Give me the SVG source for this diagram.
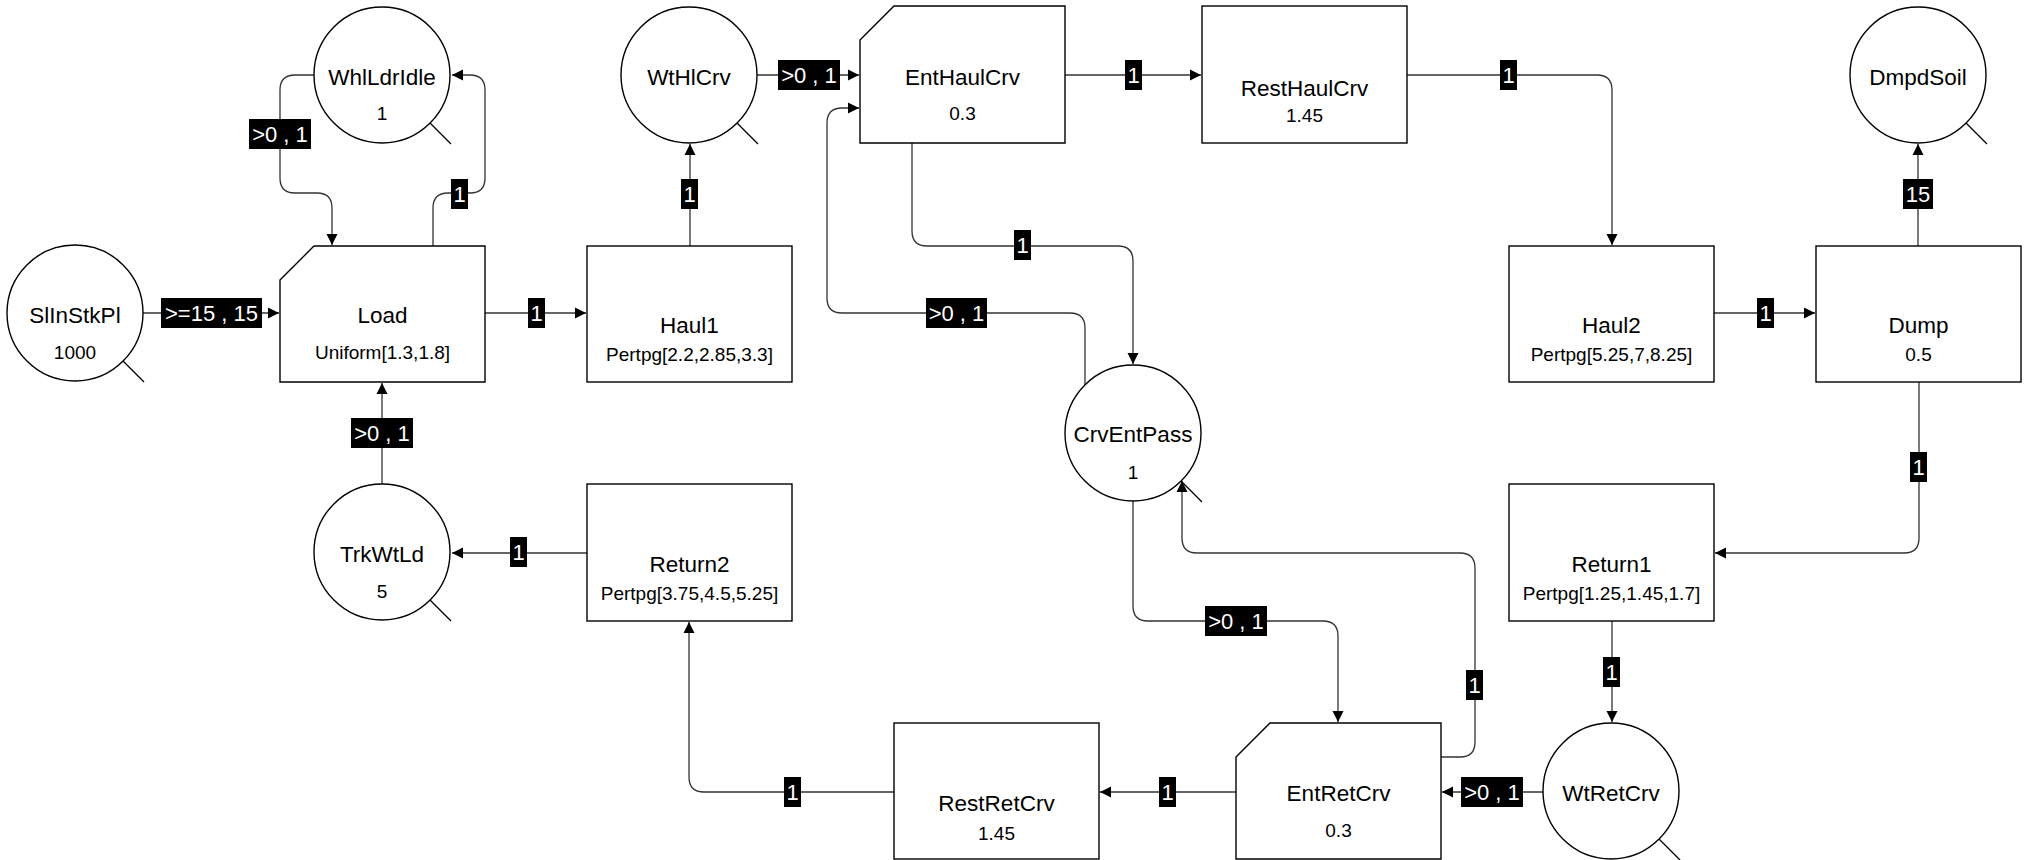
<svg xmlns="http://www.w3.org/2000/svg" width="2025" height="860" viewBox="0 0 2025 860">
  <defs>
    <marker id="arrow" markerUnits="userSpaceOnUse" markerWidth="12" markerHeight="12" viewBox="0 0 12 12" refX="11" refY="6" orient="auto">
      <path d="M0,0.5 L11,6 L0,11.5 Z" fill="#000"/>
    </marker>
    <style>
      .shape { fill: #fff; stroke: #000; stroke-width: 1.4; }
      .tail { fill: none; stroke: #000; stroke-width: 1.3; }
      .name { font-family: "Liberation Sans", Arial, sans-serif; font-size: 22.5px; fill: #000; text-anchor: middle; }
      .sub { font-family: "Liberation Sans", Arial, sans-serif; font-size: 19px; fill: #000; text-anchor: middle; }
      .conn { fill: none; stroke: #333; stroke-width: 1.3; marker-end: url(#arrow); }
      .tag { fill: #000; }
      .tagtext { font-family: "Liberation Sans", Arial, sans-serif; font-size: 22px; fill: #fff; text-anchor: middle; }
    </style>
  </defs>
  <rect x="0" y="0" width="2025" height="860" fill="#fff"/>

  <!-- connectors -->
  <g id="connectors">
    <path class="conn" d="M143,313 H279"/>
    <path class="conn" d="M314,75 H295 Q280,75 280,90 V178 Q280,193 295,193 H317 Q332,193 332,208 V245"/>
    <path class="conn" d="M433,246 V208 Q433,193 448,193 H470 Q485,193 485,178 V90 Q485,75 470,75 H452"/>
    <path class="conn" d="M485,313 H586"/>
    <path class="conn" d="M690,246 V144"/>
    <path class="conn" d="M757,75 H859"/>
    <path class="conn" d="M1085,385 V328 Q1085,313 1070,313 H842 Q827,313 827,298 V123 Q827,108 842,108 H859"/>
    <path class="conn" d="M912,143 V231 Q912,246 927,246 H1118 Q1133,246 1133,261 V364"/>
    <path class="conn" d="M1065,75 H1201"/>
    <path class="conn" d="M1407,75 H1597 Q1612,75 1612,90 V245"/>
    <path class="conn" d="M1714,313 H1815"/>
    <path class="conn" d="M1918,246 V144"/>
    <path class="conn" d="M1919,382 V538 Q1919,553 1904,553 H1715"/>
    <path class="conn" d="M1612,621 V722"/>
    <path class="conn" d="M1543,792 H1442"/>
    <path class="conn" d="M1441,757 H1460 Q1475,757 1475,742 V568 Q1475,553 1460,553 H1197 Q1182,553 1182,538 V481"/>
    <path class="conn" d="M1133,501 V606 Q1133,621 1148,621 H1323 Q1338,621 1338,636 V722"/>
    <path class="conn" d="M1236,792 H1100"/>
    <path class="conn" d="M894,792 H704 Q689,792 689,777 V622"/>
    <path class="conn" d="M587,553 H452"/>
    <path class="conn" d="M382,484 V383"/>

    <!-- connector labels -->
    <rect class="tag" x="161" y="298" width="101" height="30"/><text class="tagtext" x="211.5" y="321">&gt;=15 , 15</text>
    <rect class="tag" x="249" y="119" width="62" height="30"/><text class="tagtext" x="280" y="142">&gt;0 , 1</text>
    <rect class="tag" x="451" y="179" width="17" height="30"/><text class="tagtext" x="459.5" y="202">1</text>
    <rect class="tag" x="528" y="298" width="17" height="30"/><text class="tagtext" x="536.5" y="321">1</text>
    <rect class="tag" x="681" y="179" width="17" height="30"/><text class="tagtext" x="689.5" y="202">1</text>
    <rect class="tag" x="778" y="60" width="62" height="30"/><text class="tagtext" x="809" y="83">&gt;0 , 1</text>
    <rect class="tag" x="926" y="298" width="61" height="30"/><text class="tagtext" x="956.5" y="321">&gt;0 , 1</text>
    <rect class="tag" x="1014" y="230" width="17" height="30"/><text class="tagtext" x="1022.5" y="253">1</text>
    <rect class="tag" x="1125" y="60" width="17" height="30"/><text class="tagtext" x="1133.5" y="83">1</text>
    <rect class="tag" x="1500" y="60" width="17" height="30"/><text class="tagtext" x="1508.5" y="83">1</text>
    <rect class="tag" x="1757" y="298" width="17" height="30"/><text class="tagtext" x="1765.5" y="321">1</text>
    <rect class="tag" x="1903" y="179" width="30" height="30"/><text class="tagtext" x="1918" y="202">15</text>
    <rect class="tag" x="1910" y="452" width="17" height="30"/><text class="tagtext" x="1918.5" y="475">1</text>
    <rect class="tag" x="1603" y="657" width="17" height="30"/><text class="tagtext" x="1611.5" y="680">1</text>
    <rect class="tag" x="1461" y="777" width="62" height="30"/><text class="tagtext" x="1492" y="800">&gt;0 , 1</text>
    <rect class="tag" x="1466" y="670" width="17" height="30"/><text class="tagtext" x="1474.5" y="693">1</text>
    <rect class="tag" x="1205" y="606" width="62" height="30"/><text class="tagtext" x="1236" y="629">&gt;0 , 1</text>
    <rect class="tag" x="1159" y="777" width="17" height="30"/><text class="tagtext" x="1167.5" y="800">1</text>
    <rect class="tag" x="784" y="777" width="17" height="30"/><text class="tagtext" x="792.5" y="800">1</text>
    <rect class="tag" x="510" y="537" width="17" height="30"/><text class="tagtext" x="518.5" y="560">1</text>
    <rect class="tag" x="351" y="418" width="62" height="30"/><text class="tagtext" x="382" y="441">&gt;0 , 1</text>
  </g>

  <!-- queue nodes (circles) -->
  <g id="SlInStkPl">
    <circle class="shape" cx="75" cy="313" r="68"/>
    <line class="tail" x1="123" y1="361" x2="144" y2="382"/>
    <text class="name" x="75" y="323">SlInStkPl</text>
    <text class="sub" x="75" y="359">1000</text>
  </g>
  <g id="WhlLdrIdle">
    <circle class="shape" cx="382" cy="75" r="68"/>
    <line class="tail" x1="430" y1="123" x2="451" y2="144"/>
    <text class="name" x="382" y="85">WhlLdrIdle</text>
    <text class="sub" x="382" y="120">1</text>
  </g>
  <g id="WtHlCrv">
    <circle class="shape" cx="689" cy="75" r="68"/>
    <line class="tail" x1="737" y1="123" x2="758" y2="144"/>
    <text class="name" x="689" y="85">WtHlCrv</text>
  </g>
  <g id="DmpdSoil">
    <circle class="shape" cx="1918" cy="75" r="68"/>
    <line class="tail" x1="1966" y1="123" x2="1987" y2="144"/>
    <text class="name" x="1918" y="85">DmpdSoil</text>
  </g>
  <g id="CrvEntPass">
    <circle class="shape" cx="1133" cy="433" r="68"/>
    <line class="tail" x1="1181" y1="481" x2="1202" y2="502"/>
    <text class="name" x="1133" y="442">CrvEntPass</text>
    <text class="sub" x="1133" y="479">1</text>
  </g>
  <g id="TrkWtLd">
    <circle class="shape" cx="382" cy="552" r="68"/>
    <line class="tail" x1="430" y1="600" x2="451" y2="621"/>
    <text class="name" x="382" y="562">TrkWtLd</text>
    <text class="sub" x="382" y="598">5</text>
  </g>
  <g id="WtRetCrv">
    <circle class="shape" cx="1611" cy="791" r="68"/>
    <line class="tail" x1="1659" y1="839" x2="1680" y2="860"/>
    <text class="name" x="1611" y="801">WtRetCrv</text>
  </g>

  <!-- combi activities (chamfered boxes) -->
  <g id="Load">
    <path class="shape" d="M280,280 L314,246 H485 V382 H280 Z"/>
    <text class="name" x="382.5" y="323">Load</text>
    <text class="sub" x="382.5" y="359">Uniform[1.3,1.8]</text>
  </g>
  <g id="EntHaulCrv">
    <path class="shape" d="M860,40 L894,6 H1065 V143 H860 Z"/>
    <text class="name" x="962.5" y="85">EntHaulCrv</text>
    <text class="sub" x="962.5" y="120">0.3</text>
  </g>
  <g id="EntRetCrv">
    <path class="shape" d="M1236,757 L1270,723 H1441 V859 H1236 Z"/>
    <text class="name" x="1338.5" y="801">EntRetCrv</text>
    <text class="sub" x="1338.5" y="837">0.3</text>
  </g>

  <!-- normal activities -->
  <g id="Haul1">
    <rect class="shape" x="587" y="246" width="205" height="136"/>
    <text class="name" x="689.5" y="333">Haul1</text>
    <text class="sub" x="689.5" y="361">Pertpg[2.2,2.85,3.3]</text>
  </g>
  <g id="RestHaulCrv">
    <rect class="shape" x="1202" y="6" width="205" height="137"/>
    <text class="name" x="1304.5" y="96">RestHaulCrv</text>
    <text class="sub" x="1304.5" y="122">1.45</text>
  </g>
  <g id="Haul2">
    <rect class="shape" x="1509" y="246" width="205" height="136"/>
    <text class="name" x="1611.5" y="333">Haul2</text>
    <text class="sub" x="1611.5" y="361">Pertpg[5.25,7,8.25]</text>
  </g>
  <g id="Dump">
    <rect class="shape" x="1816" y="246" width="205" height="136"/>
    <text class="name" x="1918.5" y="333">Dump</text>
    <text class="sub" x="1918.5" y="361">0.5</text>
  </g>
  <g id="Return1">
    <rect class="shape" x="1509" y="484" width="205" height="137"/>
    <text class="name" x="1611.5" y="572">Return1</text>
    <text class="sub" x="1611.5" y="600">Pertpg[1.25,1.45,1.7]</text>
  </g>
  <g id="Return2">
    <rect class="shape" x="587" y="484" width="205" height="137"/>
    <text class="name" x="689.5" y="572">Return2</text>
    <text class="sub" x="689.5" y="600">Pertpg[3.75,4.5,5.25]</text>
  </g>
  <g id="RestRetCrv">
    <rect class="shape" x="894" y="723" width="205" height="136"/>
    <text class="name" x="996.5" y="811">RestRetCrv</text>
    <text class="sub" x="996.5" y="840">1.45</text>
  </g>
</svg>
